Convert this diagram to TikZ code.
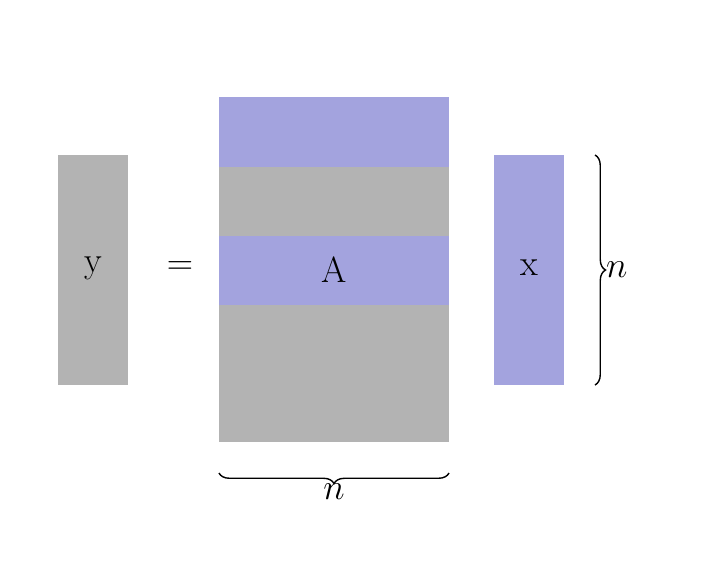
\documentclass[tikz,border=0pt]{standalone}
\usetikzlibrary{decorations.pathreplacing}
\definecolor{gr}{RGB}{179,179,179}
\definecolor{bl}{RGB}{163,163,222}
\begin{document}
\begin{tikzpicture}[x=0.02cm,y=-0.02cm,
  blk/.style={inner sep=0,outer sep=0,font=\huge},
  br/.style={decorate,decoration={brace,amplitude=6pt},thick}]
\useasboundingbox (0,0) rectangle (701,566);
\fill[gr] (58,155) rectangle (128,385);
\node[blk] (y) at (93,268) {y};
\node[blk] (eq) at (180,268) {$=$};
\fill[gr] (219,97) rectangle (449,442);
\fill[bl] (219,97) rectangle (449,167);
\fill[bl] (219,236) rectangle (449,305);
\node[blk] (A) at (334,270) {A};
\fill[bl] (494,155) rectangle (564,385);
\node[blk] (x) at (529,268) {x};
\coordinate (r1) at (595,155);
\coordinate (r2) at (595,385);
\draw[br] (r1) -- (r2) node[midway,right=6pt,font=\huge,inner sep=0] (n1) {$n$};
\coordinate (b1) at (449,473);
\coordinate (b2) at (219,473);
\draw[br] (b1) -- (b2) node[midway,below=6pt,font=\huge,inner sep=0] (n2) {$n$};
\end{tikzpicture}
\end{document}
